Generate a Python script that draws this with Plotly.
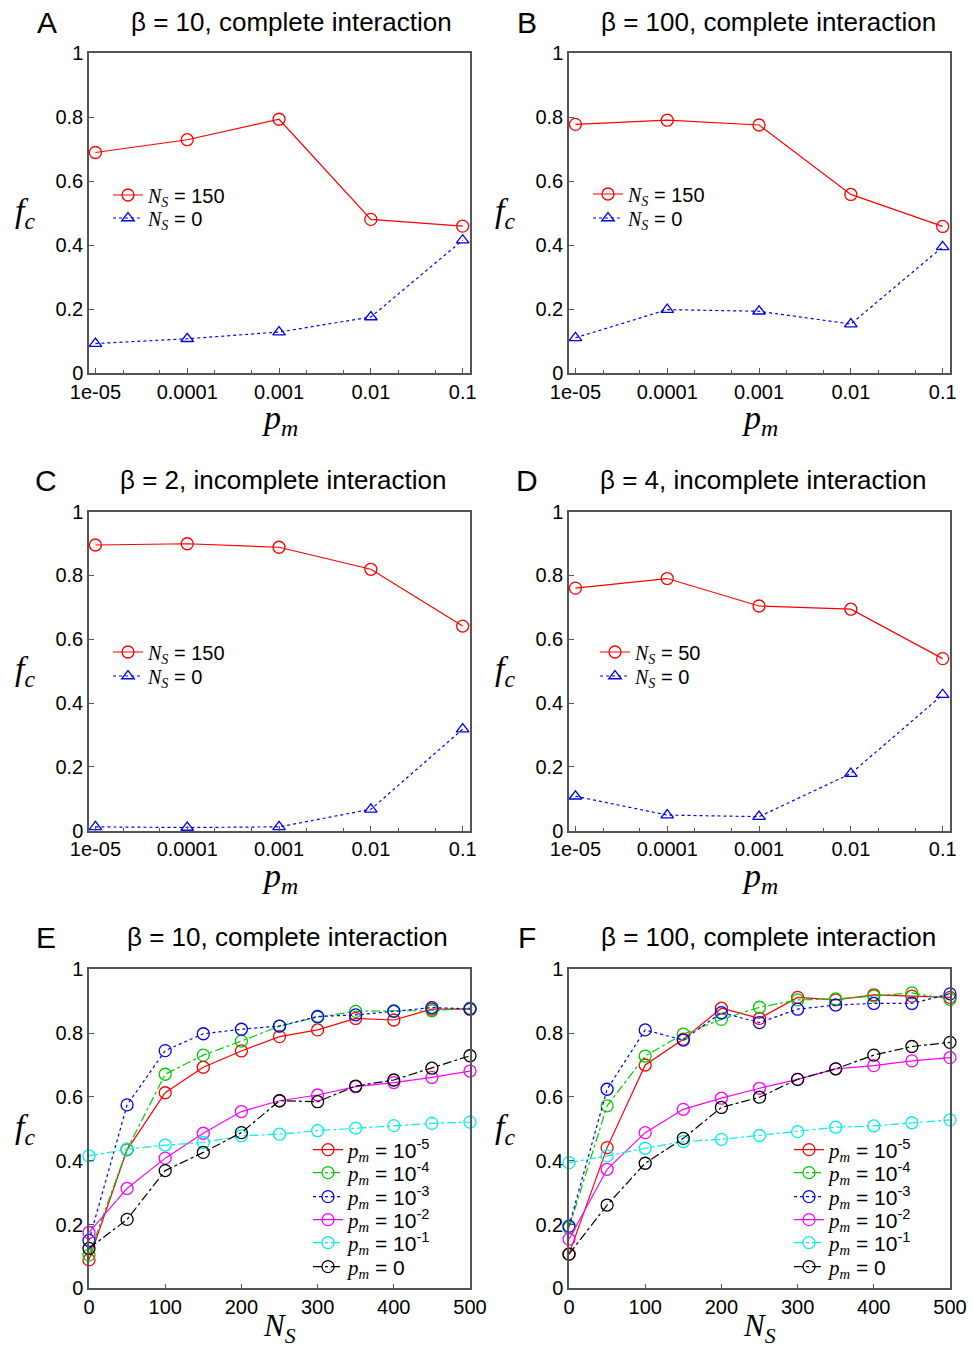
import plotly.graph_objects as go

W, H = 974, 1351

# ---------------- data ----------------
pm_values = [1e-5, 1e-4, 1e-3, 1e-2, 1e-1]
pm_ticktext = ["1e-05", "0.0001", "0.001", "0.01", "0.1"]
ns_values = [0, 50, 100, 150, 200, 250, 300, 350, 400, 450, 500]

# Panel A: beta = 10, complete interaction
A_ns150 = [0.689, 0.729, 0.793, 0.480, 0.459]
A_ns0 = [0.092, 0.107, 0.128, 0.175, 0.415]
# Panel B: beta = 100, complete interaction
B_ns150 = [0.777, 0.790, 0.775, 0.558, 0.458]
B_ns0 = [0.110, 0.198, 0.193, 0.153, 0.394]
# Panel C: beta = 2, incomplete interaction
C_ns150 = [0.895, 0.899, 0.888, 0.819, 0.641]
C_ns0 = [0.012, 0.010, 0.012, 0.067, 0.318]
# Panel D: beta = 4, incomplete interaction
D_ns50 = [0.760, 0.790, 0.704, 0.694, 0.539]
D_ns0 = [0.108, 0.049, 0.044, 0.179, 0.426]

# Panel E: beta = 10, complete interaction, f_c vs N_S
E_pm1e5 = [0.089, 0.434, 0.613, 0.693, 0.744, 0.789, 0.810, 0.846, 0.841, 0.875, 0.875]
E_pm1e4 = [0.104, 0.436, 0.671, 0.731, 0.775, 0.822, 0.850, 0.868, 0.870, 0.870, 0.878]
E_pm1e3 = [0.150, 0.575, 0.745, 0.798, 0.812, 0.822, 0.852, 0.857, 0.868, 0.880, 0.876]
E_pm1e2 = [0.175, 0.313, 0.408, 0.486, 0.554, 0.588, 0.606, 0.632, 0.645, 0.661, 0.681]
E_pm1e1 = [0.415, 0.436, 0.449, 0.457, 0.478, 0.483, 0.494, 0.502, 0.510, 0.517, 0.521]
E_pm0 = [0.125, 0.216, 0.369, 0.426, 0.488, 0.588, 0.585, 0.634, 0.653, 0.690, 0.729]

# Panel F: beta = 100, complete interaction, f_c vs N_S
F_pm1e5 = [0.107, 0.441, 0.700, 0.781, 0.878, 0.846, 0.912, 0.904, 0.920, 0.916, 0.912]
F_pm1e4 = [0.190, 0.572, 0.728, 0.797, 0.843, 0.881, 0.904, 0.907, 0.916, 0.926, 0.906]
F_pm1e3 = [0.195, 0.624, 0.810, 0.778, 0.864, 0.833, 0.875, 0.888, 0.893, 0.893, 0.923]
F_pm1e2 = [0.154, 0.373, 0.488, 0.561, 0.596, 0.627, 0.655, 0.688, 0.698, 0.713, 0.723]
F_pm1e1 = [0.394, 0.415, 0.439, 0.460, 0.467, 0.479, 0.491, 0.505, 0.509, 0.519, 0.528]
F_pm0 = [0.107, 0.261, 0.392, 0.470, 0.567, 0.599, 0.655, 0.688, 0.731, 0.758, 0.771]

fc_ticks = [0, 0.2, 0.4, 0.6, 0.8, 1]
fc_ticktext = ["0", "0.2", "0.4", "0.6", "0.8", "1"]
ns_ticks = [0, 100, 200, 300, 400, 500]

# ---------------- styling ----------------
SANS = "Liberation Sans, Arial, sans-serif"
SERIF = "Liberation Serif, Times New Roman, serif"
AXC = "#555555"


def px(x):
    return x / W


def py(y):
    return 1 - y / H


def sym(a, b):
    return f"<span style='font-family:{SERIF}'><i>{a}</i><sub><i>{b}</i></sub></span>"


panels = {
    "A": dict(xd=(89, 470), yd=(53, 373)),
    "B": dict(xd=(569, 950), yd=(53, 373)),
    "C": dict(xd=(89, 470), yd=(511.5, 830.7)),
    "D": dict(xd=(569, 950), yd=(511.5, 830.7)),
    "E": dict(xd=(89, 470), yd=(969.3, 1288.3)),
    "F": dict(xd=(569, 950), yd=(969.3, 1288.3)),
}
order = ["A", "B", "C", "D", "E", "F"]

# legend anchor (left px) and row centres (px) per panel
leg_left = {"A": 108, "B": 588, "C": 108, "D": 595, "E": 308, "F": 789}
leg_rows = {"A": [195, 218], "B": [194, 218], "C": [652, 676], "D": [652, 676],
            "E": [1150, 1173, 1197, 1220, 1243, 1267],
            "F": [1150, 1173, 1197, 1220, 1243, 1267]}
leg_font = {"A": 20, "B": 20, "C": 20, "D": 20, "E": 21, "F": 21}

fig = go.Figure()
layout = dict(
    width=W, height=H, margin=dict(l=0, r=0, t=0, b=0, autoexpand=False),
    paper_bgcolor="white", plot_bgcolor="white",
    font=dict(family=SANS, size=20, color="black"),
    showlegend=True,
)

for i, k in enumerate(order):
    n = i + 1
    xa = "xaxis" if n == 1 else f"xaxis{n}"
    ya = "yaxis" if n == 1 else f"yaxis{n}"
    d = panels[k]
    common = dict(showline=True, mirror=True, linecolor=AXC, linewidth=1.5,
                  ticks="inside", ticklen=5, tickcolor=AXC, tickwidth=1,
                  showgrid=False, zeroline=False, automargin=False,
                  tickfont=dict(family=SANS, size=20, color="black"))
    if k in "ABCD":
        xax = dict(common, type="log", range=[-5.07, -0.92], tickvals=pm_values,
                   ticktext=pm_ticktext,
                   minor=dict(ticks="inside", ticklen=3, tickcolor=AXC, dtick="D2", showgrid=False))
    else:
        xax = dict(common, range=[0, 500], tickvals=ns_ticks)
    xax["domain"] = [px(d["xd"][0]), px(d["xd"][1])]
    xax["anchor"] = "y" if n == 1 else f"y{n}"
    yax = dict(common, range=[0, 1], tickvals=fc_ticks, ticktext=fc_ticktext,
               domain=[py(d["yd"][1]), py(d["yd"][0])])
    yax["anchor"] = "x" if n == 1 else f"x{n}"
    layout[xa] = xax
    layout[ya] = yax

leg_counter = [0]


def add(k, x, y, name, color, symbol, dash, row, size=12):
    n = order.index(k) + 1
    leg_counter[0] += 1
    m = leg_counter[0]
    key = "legend" if m == 1 else f"legend{m}"
    layout[key] = dict(x=px(leg_left[k]), y=py(leg_rows[k][row]), xanchor="left", yanchor="middle",
                       bgcolor="rgba(0,0,0,0)", borderwidth=0,
                       font=dict(family=SANS, size=leg_font[k], color="black"))
    fig.add_trace(go.Scatter(
        x=x, y=y, name=name, mode="lines+markers",
        line=dict(color=color, width=1.2, dash=dash),
        marker=dict(symbol=symbol, size=size, color=color, line=dict(color=color, width=1.3)),
        cliponaxis=False,
        xaxis="x" if n == 1 else f"x{n}", yaxis="y" if n == 1 else f"y{n}",
        legend=key,
    ))


RED, BLUE, GREEN, MAG, CYAN, BLACK = "#ff0000", "#0000ee", "#00cc00", "#ff00ff", "#00eeee", "#000000"

ns_lbl = lambda v: f"{sym('N', 'S')} = {v}"
add("A", pm_values, A_ns150, ns_lbl(150), RED, "circle-open", "solid", 0)
add("A", pm_values, A_ns0, ns_lbl(0), BLUE, "triangle-up-open", "dot", 1, 11)
add("B", pm_values, B_ns150, ns_lbl(150), RED, "circle-open", "solid", 0)
add("B", pm_values, B_ns0, ns_lbl(0), BLUE, "triangle-up-open", "dot", 1, 11)
add("C", pm_values, C_ns150, ns_lbl(150), RED, "circle-open", "solid", 0)
add("C", pm_values, C_ns0, ns_lbl(0), BLUE, "triangle-up-open", "dot", 1, 11)
add("D", pm_values, D_ns50, ns_lbl(50), RED, "circle-open", "solid", 0)
add("D", pm_values, D_ns0, ns_lbl(0), BLUE, "triangle-up-open", "dot", 1, 11)

pm_lbl = lambda e: f"{sym('p', 'm')} = 10<sup>{e}</sup>"
series_E = [(E_pm1e5, pm_lbl("-5"), RED, "solid"), (E_pm1e4, pm_lbl("-4"), GREEN, "dashdot"),
            (E_pm1e3, pm_lbl("-3"), BLUE, "dot"), (E_pm1e2, pm_lbl("-2"), MAG, "solid"),
            (E_pm1e1, pm_lbl("-1"), CYAN, "dashdot"), (E_pm0, f"{sym('p', 'm')} = 0", BLACK, "dashdot")]
series_F = [(F_pm1e5, pm_lbl("-5"), RED, "solid"), (F_pm1e4, pm_lbl("-4"), GREEN, "dashdot"),
            (F_pm1e3, pm_lbl("-3"), BLUE, "dot"), (F_pm1e2, pm_lbl("-2"), MAG, "solid"),
            (F_pm1e1, pm_lbl("-1"), CYAN, "dashdot"), (F_pm0, f"{sym('p', 'm')} = 0", BLACK, "dashdot")]
for r, (y, nm, c, ds) in enumerate(series_E):
    add("E", ns_values, y, nm, c, "circle-open", ds, r)
for r, (y, nm, c, ds) in enumerate(series_F):
    add("F", ns_values, y, nm, c, "circle-open", ds, r)

# annotations: panel letters, titles, axis labels
titles = {"A": ("β = 10, complete interaction", 291, 22),
          "B": ("β = 100, complete interaction", 768, 22),
          "C": ("β = 2, incomplete interaction", 283, 480),
          "D": ("β = 4, incomplete interaction", 763, 480),
          "E": ("β = 10, complete interaction", 287, 937),
          "F": ("β = 100, complete interaction", 768, 937)}
letters = {"A": (47, 22), "B": (527, 22), "C": (46, 480), "D": (527, 480), "E": (46, 937), "F": (527, 937)}
ann = []
for k in order:
    t, tx, ty = titles[k]
    ann.append(dict(text=t, x=px(tx), y=py(ty), xref="paper", yref="paper", showarrow=False,
                    xanchor="center", yanchor="middle", font=dict(family=SANS, size=26, color="black")))
    lx, ly = letters[k]
    ann.append(dict(text=k, x=px(lx), y=py(ly), xref="paper", yref="paper", showarrow=False,
                    xanchor="center", yanchor="middle", font=dict(family=SANS, size=30, color="black")))
    d = panels[k]
    cy = (d["yd"][0] + d["yd"][1]) / 2
    cx = (d["xd"][0] + d["xd"][1]) / 2
    ann.append(dict(text=sym("f", "c"), x=px(d["xd"][0] - 64), y=py(cy), xref="paper", yref="paper",
                    showarrow=False, xanchor="center", yanchor="middle",
                    font=dict(family=SERIF, size=34, color="black")))
    if k in "ABCD":
        xl, off, fs = sym("p", "m"), 47, 34
    else:
        xl, off, fs = sym("N", "S"), 40, 31
    ann.append(dict(text=xl, x=px(cx), y=py(d["yd"][1] + off), xref="paper", yref="paper",
                    showarrow=False, xanchor="center", yanchor="middle",
                    font=dict(family=SERIF, size=fs, color="black")))
layout["annotations"] = ann

fig.update_layout(**layout)
fig.write_html("out.html")
